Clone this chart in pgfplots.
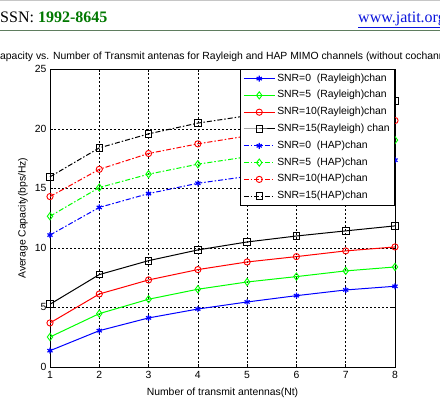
\documentclass[border=0pt]{standalone}
\usepackage{pgfplots}
\pgfplotsset{compat=1.18}
\usepackage{fontspec}
\setmainfont{Liberation Serif}
\newfontfamily\arial{Liberation Sans}
\definecolor{hdrgreen}{RGB}{0,120,0}
\definecolor{hdrline}{RGB}{95,125,95}
\definecolor{linkblue}{RGB}{10,20,220}
\begin{document}
\begin{tikzpicture}[x=1pt,y=1pt]
\useasboundingbox (0,0) rectangle (440,406);
\clip (0,0) rectangle (440,406);
\fill[white] (0,0) rectangle (440,406);
% header
\draw[gray!45, line width=1pt] (0,405.5) -- (440,405.5);
\draw[hdrline, line width=1pt] (0,375.3) -- (440,375.3);
\node[anchor=base west, inner sep=0] at (-5.3,383.3) {\fontsize{16}{18}\selectfont ISSN: \textcolor{hdrgreen}{\textbf{1992-8645}}};
\node[anchor=base west, inner sep=0] at (358,383.3) {\fontsize{16}{18}\selectfont\color{linkblue}\underline{www.jatit.org}};
% title
\node[anchor=base west, inner sep=0] at (0,346) {\arial\fontsize{10.4}{12}\selectfont\llap{Average C}apacity vs. Number of Transmit antenas for Rayleigh and HAP MIMO channels (without cochannel interference)};
\begin{axis}[
  at={(50pt,39pt)}, anchor=south west,
  scale only axis, width=345pt, height=297.7pt,
  xmin=1, xmax=8, ymin=0, ymax=25,
  xtick={1,...,8}, ytick={0,5,...,25},
  clip=false,
  font=\arial\fontsize{10.4}{12}\selectfont,
  /pgf/number format/assume math mode=true,
  tick align=inside,
  major tick length=3pt,
  tick style={black, line width=0.6pt},
  axis line style={black, line width=0.8pt},
  grid=major,
  major grid style={black, line width=0.5pt, dash pattern=on 2pt off 2pt},
  xticklabel style={anchor=base, yshift=-12pt},
  yticklabel style={anchor=east},
  xlabel={Number of transmit antennas(Nt)},
  xlabel style={at={(axis description cs:0.5,0)}, anchor=base, yshift=-29pt},
  ylabel={Average Capacity(bps/Hz)},
  ylabel style={at={(axis description cs:-0.0783,0.5)}, anchor=center, rotate=0},
  legend cell align=left,
  legend style={at={(1,1)}, anchor=north east, draw=black, line width=0.6pt, fill=white,
    font=\arial\fontsize{10.4}{12}\selectfont, row sep=2.8pt, inner xsep=3pt, inner ysep=2pt,
    nodes={inner sep=2pt, text height=7.5pt, text depth=2.5pt}},
  legend image code/.code={\draw[mark repeat=2, mark phase=2] plot coordinates {(0pt,0pt) (15.5pt,0pt) (31pt,0pt)};},
  every axis plot/.append style={line width=1pt},
]
\addplot[blue, mark=asterisk, mark size=3pt, mark options={solid, line width=1.2pt}] coordinates {(1,1.37)(2,3.05)(3,4.12)(4,4.87)(5,5.46)(6,5.99)(7,6.47)(8,6.78)};
\addlegendentry{SNR=0\ \ (Rayleigh)chan}
\addplot[green, mark=diamond, mark size=3.6pt, mark options={solid, line width=0.9pt}] coordinates {(1,2.52)(2,4.48)(3,5.69)(4,6.53)(5,7.14)(6,7.59)(7,8.07)(8,8.40)};
\addlegendentry{SNR=5\ \ (Rayleigh)chan}
\addplot[red, mark=o, mark size=3.1pt, mark options={solid, line width=0.9pt}] coordinates {(1,3.70)(2,6.13)(3,7.31)(4,8.18)(5,8.82)(6,9.27)(7,9.75)(8,10.08)};
\addlegendentry{SNR=10(Rayleigh)chan}
\addplot[black, mark=square, mark size=3.3pt, mark options={solid, line width=0.9pt}] coordinates {(1,5.27)(2,7.76)(3,8.93)(4,9.83)(5,10.50)(6,11.00)(7,11.43)(8,11.85)};
\addlegendentry{SNR=15(Rayleigh) chan}
\addplot[blue, dash pattern=on 5pt off 2pt on 1.5pt off 2pt, mark=asterisk, mark size=3pt, mark options={solid, line width=1.2pt}] coordinates {(1,11.08)(2,13.40)(3,14.56)(4,15.43)(5,16.00)(6,16.55)(7,17.00)(8,17.37)};
\addlegendentry{SNR=0\ \ (HAP)chan}
\addplot[green, dash pattern=on 5pt off 2pt on 1.5pt off 2pt, mark=diamond, mark size=3.6pt, mark options={solid, line width=0.9pt}] coordinates {(1,12.66)(2,15.07)(3,16.19)(4,17.03)(5,17.65)(6,18.10)(7,18.60)(8,19.05)};
\addlegendentry{SNR=5\ \ (HAP)chan}
\addplot[red, dash pattern=on 5pt off 2pt on 1.5pt off 2pt, mark=o, mark size=3.1pt, mark options={solid, line width=0.9pt}] coordinates {(1,14.31)(2,16.60)(3,17.93)(4,18.74)(5,19.40)(6,19.85)(7,20.30)(8,20.70)};
\addlegendentry{SNR=10(HAP)chan}
\addplot[black, dash pattern=on 5pt off 2pt on 1.5pt off 2pt, mark=square, mark size=3.3pt, mark options={solid, line width=0.9pt}] coordinates {(1,15.97)(2,18.40)(3,19.58)(4,20.48)(5,21.10)(6,21.60)(7,22.00)(8,22.35)};
\addlegendentry{SNR=15(HAP)chan}
\end{axis}
\end{tikzpicture}
\end{document}
